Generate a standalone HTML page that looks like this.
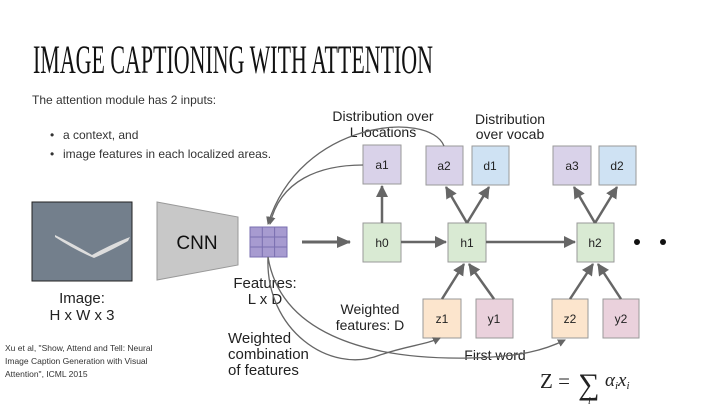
<!DOCTYPE html>
<html><head><meta charset="utf-8"><style>
body{margin:0;width:720px;height:405px;background:#fff;overflow:hidden;font-family:"Liberation Sans",sans-serif}
</style></head><body>
<svg width="720" height="405" viewBox="0 0 720 405" xmlns="http://www.w3.org/2000/svg" font-family="Liberation Sans, sans-serif">
<defs>
<marker id="ah" markerWidth="12" markerHeight="12" refX="11" refY="6" orient="auto" markerUnits="userSpaceOnUse"><path d="M0,0 L12,6 L0,12 z" fill="#666"/></marker>
<marker id="as" markerWidth="8" markerHeight="8" refX="7" refY="4" orient="auto" markerUnits="userSpaceOnUse"><path d="M0,0 L8,4 L0,8 z" fill="#666"/></marker>
<marker id="ab" markerWidth="14" markerHeight="12" refX="13" refY="6" orient="auto" markerUnits="userSpaceOnUse"><path d="M0,0 L14,6 L0,12 z" fill="#666"/></marker>
</defs>
<text x="33" y="73" font-family="Liberation Serif, serif" font-size="40" fill="#111" textLength="400" lengthAdjust="spacingAndGlyphs">IMAGE CAPTIONING WITH ATTENTION</text>
<text x="32" y="104" font-size="12" fill="#333">The attention module has 2 inputs:</text>
<text x="50" y="139" font-size="12" fill="#333">•</text><text x="63" y="139" font-size="12" fill="#333">a context, and</text>
<text x="50" y="158" font-size="12" fill="#333">•</text><text x="63" y="158" font-size="12" fill="#333">image features in each localized areas.</text>
<!-- image -->
<rect x="32" y="202" width="100" height="79" fill="#737f8c" stroke="#222" stroke-width="1"/>
<path d="M55,235 Q75,245 92,255 Q110,245 130,237 L128,241 Q108,252 94,258 Q75,250 55,237z" fill="#ddd"/>
<text x="82" y="303" font-size="15" text-anchor="middle" fill="#222">Image:</text>
<text x="82" y="320" font-size="15" text-anchor="middle" fill="#222">H x W x 3</text>
<text x="5" y="351" font-size="8.5" fill="#333">Xu et al, "Show, Attend and Tell: Neural</text>
<text x="5" y="364" font-size="8.5" fill="#333">Image Caption Generation with Visual</text>
<text x="5" y="377" font-size="8.5" fill="#333">Attention", ICML 2015</text>
<!-- CNN -->
<polygon points="157,202 238,217 238,265 157,280" fill="#c8c8c8" stroke="#999"/>
<text x="197" y="249" font-size="19" text-anchor="middle" fill="#111">CNN</text>
<!-- grid -->
<rect x="250" y="227" width="37" height="30" fill="#a79bd0" stroke="#7a6fb0"/>
<path d="M262.3,227V257M274.6,227V257M250,237H287M250,247H287" stroke="#7a6fb0"/>
<text x="265" y="288" font-size="15" text-anchor="middle" fill="#222">Features:</text>
<text x="265" y="304" font-size="15" text-anchor="middle" fill="#222">L x D</text>
<text x="228" y="343" font-size="15" fill="#222">Weighted</text>
<text x="228" y="359" font-size="15" fill="#222">combination</text>
<text x="228" y="375" font-size="15" fill="#222">of features</text>
<!-- boxes -->
<g stroke="#999" stroke-width="1">
<rect x="363" y="145" width="38" height="39" fill="#d9d2e9"/>
<rect x="426" y="146" width="37" height="39" fill="#d9d2e9"/>
<rect x="472" y="146" width="37" height="39" fill="#cfe2f3"/>
<rect x="553" y="146" width="38" height="39" fill="#d9d2e9"/>
<rect x="599" y="146" width="37" height="39" fill="#cfe2f3"/>
<rect x="363" y="223" width="38" height="39" fill="#d9ead3"/>
<rect x="448" y="223" width="38" height="39" fill="#d9ead3"/>
<rect x="577" y="223" width="37" height="39" fill="#d9ead3"/>
<rect x="423" y="299" width="38" height="39" fill="#fce5cd"/>
<rect x="476" y="299" width="37" height="39" fill="#ead1dc"/>
<rect x="552" y="299" width="36" height="39" fill="#fce5cd"/>
<rect x="603" y="299" width="36" height="39" fill="#ead1dc"/>
</g>
<g font-size="12" text-anchor="middle" fill="#222">
<text x="382" y="169">a1</text><text x="444" y="170">a2</text><text x="490" y="170">d1</text>
<text x="572" y="170">a3</text><text x="617" y="170">d2</text>
<text x="382" y="247">h0</text><text x="467" y="247">h1</text><text x="595" y="247">h2</text>
<text x="442" y="323">z1</text><text x="494" y="323">y1</text><text x="570" y="323">z2</text><text x="621" y="323">y2</text>
</g>
<g font-size="14" text-anchor="middle" fill="#222">
<text x="383" y="121">Distribution over</text>
<text x="383" y="137">L locations</text>
<text x="510" y="124">Distribution</text>
<text x="510" y="139">over vocab</text>
<text x="370" y="314">Weighted</text>
<text x="370" y="330">features: D</text>
<text x="495" y="360">First word</text>
</g>
<circle cx="637" cy="242" r="3" fill="#111"/><circle cx="663" cy="242" r="3" fill="#111"/>
<!-- arrows -->
<g stroke="#666" stroke-width="2.5" fill="none">
<path d="M302,242H350" stroke-width="3" marker-end="url(#ab)"/>
<path d="M401,242H446" marker-end="url(#ah)"/>
<path d="M486,242H575" marker-end="url(#ah)"/>
<path d="M382,223V186" marker-end="url(#ah)"/>
<path d="M467,223L446,187" marker-end="url(#ah)"/>
<path d="M467,223L489,187" marker-end="url(#ah)"/>
<path d="M595,223L574,187" marker-end="url(#ah)"/>
<path d="M595,223L617,187" marker-end="url(#ah)"/>
<path d="M442,299L464,264" marker-end="url(#ah)"/>
<path d="M494,299L469,264" marker-end="url(#ah)"/>
<path d="M570,299L593,264" marker-end="url(#ah)"/>
<path d="M621,299L598,264" marker-end="url(#ah)"/>
</g>
<g stroke="#666" stroke-width="1.3" fill="none">
<path d="M363,165 C320,165 280,180 270,224" marker-end="url(#as)"/>
<path d="M444,146 C430,110 300,120 268,224" marker-end="url(#as)"/>
<path d="M268,257 C265,330 330,375 380,355 C410,345 425,345 440,338" marker-end="url(#as)"/>
<path d="M268,257 C280,330 360,360 470,358 C520,357 545,350 565,340" marker-end="url(#as)"/>
</g>
<text x="540" y="388" font-family="Liberation Serif, serif" font-size="21" fill="#222">Z =</text>
<text x="578" y="394" font-family="Liberation Serif, serif" font-size="30" fill="#222">∑</text>
<text x="588" y="404" font-family="Liberation Serif, serif" font-size="10" font-style="italic" fill="#222">i</text>
<text x="605" y="386" font-family="Liberation Serif, serif" font-size="19" font-style="italic" fill="#222">α<tspan font-size="11" dy="3">i</tspan><tspan dy="-3">x</tspan><tspan font-size="11" dy="3">i</tspan></text>
</svg>
</body></html>
